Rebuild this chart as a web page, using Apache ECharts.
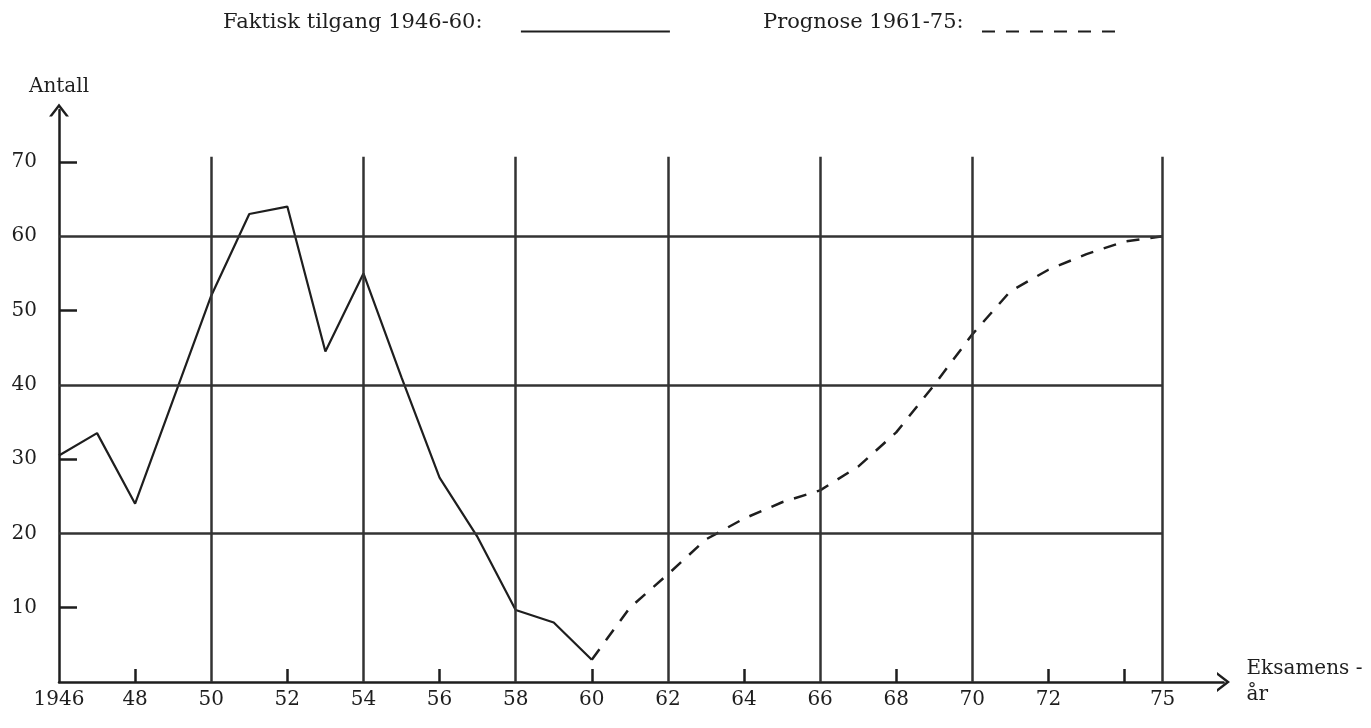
<!DOCTYPE html>
<html>
<head>
<meta charset="utf-8">
<script src="https://cdn.jsdelivr.net/npm/echarts@6/dist/echarts.min.js"></script>
<style>
html,body{margin:0;padding:0;background:#fff;}
#chart{width:1371px;height:728px;}
</style>
</head>
<body>
<div id="chart"></div>
<script>
// ---- data ----
const seriesNames = ['Faktisk tilgang 1946-60:', 'Prognose 1961-75:'];
const yearsActual = [1946,1947,1948,1949,1950,1951,1952,1953,1954,1955,1956,1957,1958,1959,1960];
const valuesActual = [30.5,33.5,24,38,52,63,64,44.5,55,41,27.5,19.5,9.7,8,3];
const yearsForecast = [1960,1961,1962,1963,1964,1965,1966,1967,1968,1969,1970,1971,1972,1973,1974,1975];
const valuesForecast = [3,10,14.5,19.2,22,24.2,25.8,29,33.6,40,46.8,52.6,55.5,57.6,59.3,60];
const xLabelValues = [1946,1948,1950,1952,1954,1956,1958,1960,1962,1964,1966,1968,1970,1972,1975];
const xTickValues = [1948,1952,1956,1960,1964,1968,1972,1974];
const yLabelValues = [10,20,30,40,50,60,70];
const yTickValues = [10,30,50,70];
const gridYears = [1950,1954,1958,1962,1966,1970,1975];
const gridLevels = [20,40,60];
const gridFirstYear = 1946, gridLastYear = 1975, gridTop = 70.7;

// ---- style ----
const FONT = 'DejaVu Serif';
const ink = '#1e1e1e';
const arrowPath = 'path://M0,13 L10,0 L20,13 L17,13 L10,4 L3,13 Z';

const gridLines = [];
gridYears.forEach(y => gridLines.push([{coord:[y,0]},{coord:[y,gridTop]}]));
gridLevels.forEach(v => gridLines.push([{coord:[gridFirstYear,v]},{coord:[gridLastYear,v]}]));

const legendText = {fontFamily:FONT, fontSize:21, color:ink, padding:[0,0,18,0]};
const legendCommon = {
  orient:'horizontal', align:'right', padding:0, selectedMode:false,
  itemHeight:14,
  itemStyle:{color:'rgba(0,0,0,0)', borderWidth:0, opacity:0},
  textStyle:{fontFamily:FONT, fontSize:21, color:ink, rich:{t:legendText}}
};

const chart = echarts.init(document.getElementById('chart'), null, {renderer:'canvas'});
chart.setOption({
  animation:false,
  backgroundColor:'#fff',
  grid:{left:59, right:147.5, top:110, bottom:31, containLabel:false},
  legend:[
    Object.assign({}, legendCommon, {data:[seriesNames[0]], left:223, top:12, itemWidth:149,
      formatter: n => '{t|' + n + '     }'}),
    Object.assign({}, legendCommon, {data:[seriesNames[1]], left:763, top:12, itemWidth:135,
      formatter: n => '{t|' + n + '  }'})
  ],
  xAxis:{
    type:'value', min:1946, max:1976.6,
    name:'Eksamens -\når', nameLocation:'end', nameGap:23,
    nameTextStyle:{fontFamily:FONT, fontSize:20, color:ink, align:'left', verticalAlign:'middle', lineHeight:26, padding:[0,0,40,0]},
    axisLine:{show:true, symbol:['none', arrowPath], symbolSize:[20,13], lineStyle:{color:ink, width:2.5}},
    axisTick:{show:true, inside:true, length:13, customValues:xTickValues, lineStyle:{color:ink, width:2.5}},
    axisLabel:{show:true, customValues:xLabelValues, margin:8, fontFamily:FONT, fontSize:20, color:ink,
      formatter: v => v === 1946 ? '1946' : String(v).slice(2)},
    splitLine:{show:false}
  },
  yAxis:{
    type:'value', min:0, max:77,
    name:'Antall', nameLocation:'end', nameGap:13,
    nameTextStyle:{fontFamily:FONT, fontSize:20, color:ink},
    axisLine:{show:true, symbol:['none', arrowPath], symbolSize:[20,13], lineStyle:{color:ink, width:2.5}},
    axisTick:{show:true, inside:true, length:18, customValues:yTickValues, lineStyle:{color:ink, width:2.5}},
    axisLabel:{show:true, customValues:yLabelValues, margin:22, padding:[0,0,16,0], fontFamily:FONT, fontSize:20, color:ink},
    splitLine:{show:false}
  },
  series:[
    {
      name:seriesNames[0], type:'line', symbol:'none', z:3,
      data: yearsActual.map((y,i) => [y, valuesActual[i]]),
      lineStyle:{color:ink, width:2.2, type:'solid'},
      itemStyle:{color:ink},
      markLine:{
        silent:true, symbol:['none','none'], label:{show:false},
        lineStyle:{color:'#333333', width:2.5, type:'solid'},
        emphasis:{disabled:true},
        data: gridLines
      }
    },
    {
      name:seriesNames[1], type:'line', symbol:'none', z:3,
      data: yearsForecast.map((y,i) => [y, valuesForecast[i]]),
      lineStyle:{color:ink, width:2.5, type:[13,11]},
      itemStyle:{color:ink}
    }
  ]
});
</script>
</body>
</html>
